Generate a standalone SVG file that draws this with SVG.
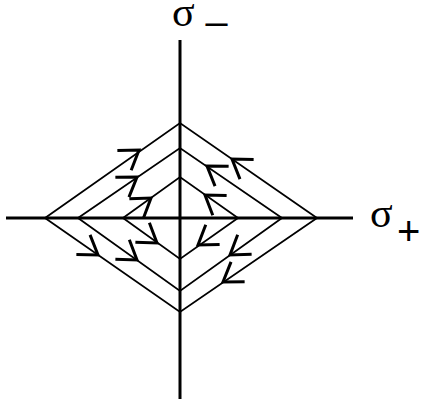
<svg xmlns="http://www.w3.org/2000/svg" width="422" height="404" viewBox="0 0 422 404">
<style>
.ax{stroke:#000;stroke-width:3;fill:none}
.dm{stroke:#000;stroke-width:1.8;fill:none;stroke-linejoin:miter}
.ah{stroke:#000;stroke-width:3;fill:none;stroke-linecap:butt;stroke-linejoin:miter}
.lb{font-family:"Liberation Serif",serif;font-size:42px;fill:#000}
.sb{font-family:"Liberation Sans",sans-serif;fill:#000}
</style>
<defs>
<path id="ar" d="M-18,-12 L0,0 L-18,12" class="ah"/>
</defs>
<g id="connectors">
<line class="ax" x1="180" y1="40" x2="180" y2="399"/>
<line class="ax" x1="6" y1="218" x2="353" y2="218"/>
<polygon class="dm" points="45,218 180,123 317,218 180,312"/>
<polygon class="dm" points="78,218 180,148 282,218 180,291"/>
<polygon class="dm" points="123,218 180,177 238,218 180,259"/>
<use href="#ar" transform="translate(139,150) rotate(-35.1)"/>
<use href="#ar" transform="translate(137,177) rotate(-34.5)"/>
<use href="#ar" transform="translate(151,198) rotate(-35.7)"/>
<use href="#ar" transform="translate(157,243) rotate(35.7)"/>
<use href="#ar" transform="translate(137,260) rotate(35.6)"/>
<use href="#ar" transform="translate(98,255) rotate(34.8)"/>
<use href="#ar" transform="translate(232,159) rotate(214.7)"/>
<use href="#ar" transform="translate(207,166) rotate(214.5)"/>
<use href="#ar" transform="translate(205,195) rotate(215.3)"/>
<use href="#ar" transform="translate(198,245) rotate(144.7)"/>
<use href="#ar" transform="translate(230,255) rotate(144.4)"/>
<use href="#ar" transform="translate(223,282) rotate(145.5)"/>
</g>
<g id="label-sigma-minus">
<text class="lb" x="172" y="26">σ</text>
<text class="sb" x="206" y="18" font-size="38">_</text>
</g>
<g id="label-sigma-plus">
<text class="lb" x="370" y="227">σ</text>
<text class="sb" x="397" y="245" font-size="40">+</text>
</g>
</svg>
